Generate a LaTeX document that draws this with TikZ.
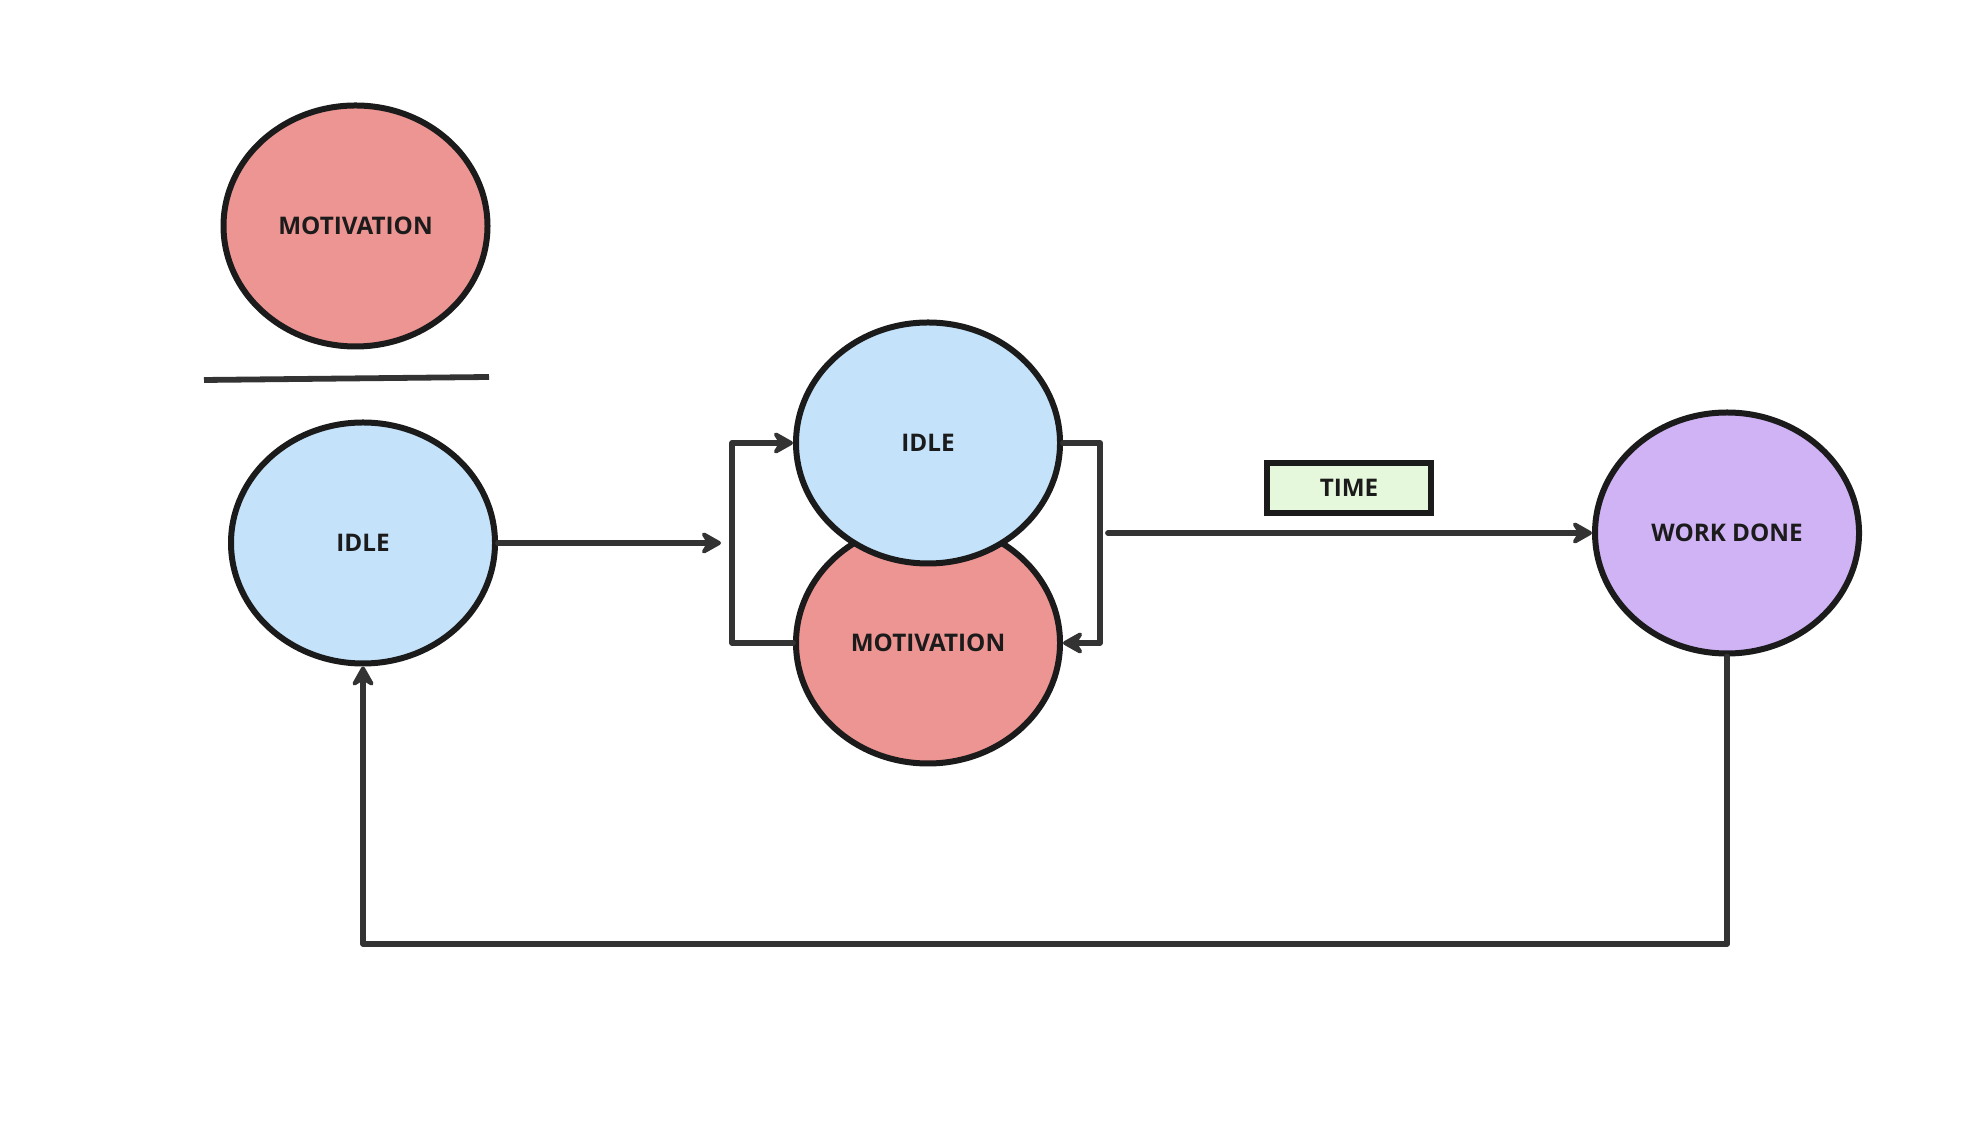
\documentclass[tikz,border=0pt]{standalone}
\usepackage{fontspec}
\setmainfont{Open Sans}
\usetikzlibrary{calc, positioning, arrows.meta}
\usetikzlibrary{shapes.geometric}

\definecolor{motred}{HTML}{EC9592}
\definecolor{idleblue}{HTML}{C4E3FA}
\definecolor{workpurple}{HTML}{CFB3F5}
\definecolor{timegreen}{HTML}{E5F8DC}
\definecolor{rim}{HTML}{1B1B1B}
\definecolor{wire}{HTML}{333333}

\begin{document}
\begin{tikzpicture}[
            >={Stealth[length=2.5mm, width=2.8mm, inset=0.9mm, round]},
            base/.style = {ellipse, draw=rim, line width=0.6mm, inner sep=0pt, minimum width=2.64cm, minimum height=2.41cm, font=\fontsize{6.9}{8}\selectfont\bfseries, text=rim},
            motiv/.style = {base, fill=motred},
            idle/.style = {base, fill=idleblue},
            done/.style = {base, fill=workpurple},
            tag/.style = {rectangle, draw=rim, line width=0.65mm, fill=timegreen, minimum width=1.64cm, minimum height=0.50cm, inner sep=0pt, font=\fontsize{6.9}{8}\selectfont\bfseries, text=rim},
            wire/.style = {draw=wire, line width=0.58mm, line join=round, line cap=round}
        ]

            \fill[white] (0,0) rectangle (19.70,11.26);
            \useasboundingbox (0,0) rectangle (19.70,11.26);

            % --- 1. Nodes ---
            \node [motiv] (mottop) at (3.555, 9.00) {MOTIVATION};
            \node [idle] (idleleft) at (3.63, 5.83) {IDLE};

            \node [motiv] (motmid) at (9.28, 4.83) {MOTIVATION};
            \node [idle, above=-0.47cm of motmid] (idlemid) {IDLE};

            \node [done] (workdone) at (17.27, 5.93) {WORK DONE};
            \node [tag] (time) at (13.49, 6.38) {TIME};

            \coordinate (into) at (7.21, 5.83);
            \coordinate (start) at (11.08, 5.93);
            \coordinate (low) at (0, 1.82);

            % fraction bar
            \draw [wire, line cap=butt] (2.04, 7.46) -- (4.89, 7.49);

            % --- 2. Connections ---
            \draw [wire, ->] (idleleft) -- (into);

            % loop between idle and motivation
            \draw [wire, ->] (motmid.west) -- ++(-0.61, 0) |- (idlemid.west);
            \draw [wire, ->] (idlemid.east) -- ++(0.37, 0) |- (motmid.east);

            \draw [wire, ->] (start) -- (workdone.west);

            % back to the start
            \draw [wire, ->] (workdone.south) -- (workdone |- low) -- (idleleft |- low) -- (idleleft.south);

        \end{tikzpicture}
\end{document}
